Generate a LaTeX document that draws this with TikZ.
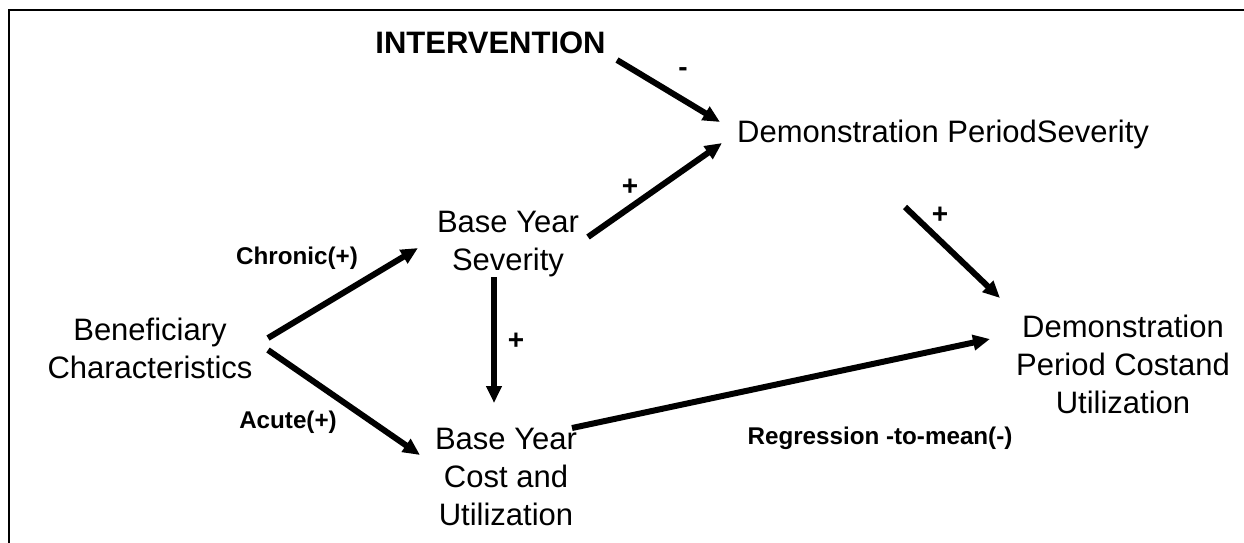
\documentclass[tikz,border=0pt]{standalone}
\usepackage{fontspec}
\setmainfont{Liberation Sans}
\usetikzlibrary{arrows.meta}
\begin{document}
\begin{tikzpicture}[x=1pt,y=-1pt,
  box/.style={inner sep=0pt,align=center,font=\fontsize{31}{38}\selectfont},
  lbl/.style={inner sep=0pt,font=\fontsize{24.2}{28}\selectfont\bfseries},
  sign/.style={inner sep=0pt,font=\fontsize{28}{30}\selectfont\bfseries},
  arr/.style={line width=6pt,-{Triangle[length=17pt,width=15pt]}}]
\useasboundingbox (0,0) rectangle (1244,542);
\draw[line width=2pt] (9,10) rectangle (1270,570);
% nodes
\node[inner sep=0pt,font=\fontsize{31}{36}\selectfont\bfseries] (int) at (490.5,43) {INTERVENTION};
\node[box,anchor=base west] (dsev) at (737,142) {Demonstration PeriodSeverity};
\node[box] (bsev) at (508,244) {Base Year\\Severity};
\node[box] (ben) at (150,348) {Beneficiary\\Characteristics};
\node[box] (bcost) at (506,477) {Base Year\\Cost and\\Utilization};
\node[box] (dcost) at (1123,364) {Demonstration\\Period Costand\\Utilization};
% labels
\node[sign] (m1) at (683,72) {-};
\node[sign] (p1) at (630,187) {+};
\node[sign] (p2) at (516,341) {+};
\node[sign] (p3) at (940,215) {+};
\node[lbl] (chr) at (297,258) {Chronic(+)};
\node[lbl] (acu) at (288,422) {Acute(+)};
\node[lbl] (reg) at (880,438) {Regression -to-mean(-)};
% connectors
\draw[arr] ([shift={(126.5,17)}]int.center) -- ([shift={(-17,-20)}]dsev.base west);
\draw[arr] ([shift={(80,-7)}]bsev.center) -- ([shift={(-15,1)}]dsev.base west);
\draw[arr] ([shift={(118,-10)}]ben.center) -- ([shift={(-90,4)}]bsev.center);
\draw[arr] ([shift={(118,2)}]ben.center) -- ([shift={(-86,-22)}]bcost.center);
\draw[arr] ([shift={(-14,33)}]bsev.center) -- ([shift={(-12,-74)}]bcost.center);
\draw[arr] ([shift={(168,65)}]dsev.base west) -- ([shift={(-123,-66)}]dcost.center);
\draw[arr] ([shift={(66,-49)}]bcost.center) -- ([shift={(-133,-25)}]dcost.center);
\end{tikzpicture}
\end{document}
